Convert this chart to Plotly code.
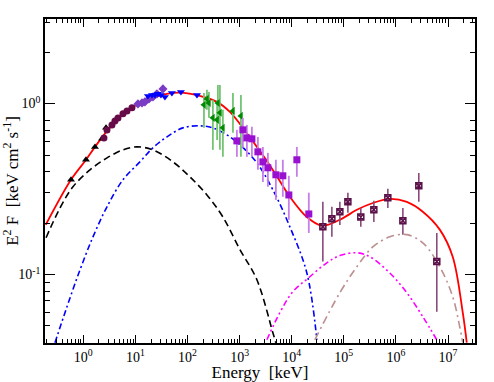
import plotly.graph_objects as go

# ---------------- model curves ----------------
total_E = [0.19, 0.58, 1.13, 1.68, 2.98, 6.9, 15.2, 40, 72, 152, 366, 651, 1014, 2150, 4350,
           9220, 19500, 37900, 84000, 178000, 361000, 764000, 1.62e6, 3.28e6, 6.95e6,
           1.23e7, 1.92e7, 2.29e7]
total_F = [0.195, 0.358, 0.469, 0.558, 0.701, 0.906, 1.037, 1.14, 1.16, 1.12, 1.023, 0.894,
           0.760, 0.558, 0.409, 0.285, 0.217, 0.193, 0.209, 0.239, 0.262, 0.277, 0.266,
           0.233, 0.183, 0.127, 0.0598, 0.0399]

bb_E = [0.193, 0.357, 0.634, 1.34, 2.85, 5.77, 10.7, 21.7, 52.5, 111, 236, 478, 1014, 2148,
        4350, 4960]
bb_F = [0.164, 0.245, 0.326, 0.409, 0.481, 0.536, 0.558, 0.536, 0.456, 0.373, 0.292, 0.217,
        0.140, 0.0931, 0.0456, 0.0399]

comp2_E = [0.286, 0.486, 0.864, 1.535, 2.85, 5.77, 12.2, 21.7, 40.3, 81.5, 173, 307, 570,
           1014, 2148, 4350, 9220, 19540, 30400]
comp2_F = [0.0399, 0.0647, 0.1064, 0.166, 0.249, 0.358, 0.456, 0.551, 0.638, 0.721, 0.741,
           0.721, 0.656, 0.574, 0.450, 0.313, 0.190, 0.102, 0.0415]

comp3_E = [3340, 5930, 10500, 22300, 47200, 84000, 178000, 316000, 764000, 1.62e6, 3.28e6,
           6.08e6]
comp3_F = [0.0415, 0.0598, 0.0792, 0.0970, 0.117, 0.129, 0.134, 0.127, 0.102, 0.0782,
           0.0566, 0.0415]

comp4_E = [27800, 84000, 178000, 360600, 764000, 1.62e6, 3.28e6, 6.95e6, 1.23e7, 1.68e7,
           1.92e7]
comp4_F = [0.0415, 0.0782, 0.111, 0.145, 0.166, 0.171, 0.153, 0.111, 0.0741, 0.0494, 0.0399]

# ---------------- data points ----------------
tri_E = [0.581, 1.127, 1.675, 2.29, 2.73]
tri_F = [0.358, 0.469, 0.558, 0.622, 0.721]

circ_E = [2.49, 2.85, 3.55, 4.05, 4.63, 5.77, 6.89, 8.59]
circ_F = [0.630, 0.701, 0.750, 0.792, 0.824, 0.871, 0.906, 0.944]

dia_E = [11.2, 13.4, 15.2, 18.2, 21.7, 25.9, 33.8]
dia_F = [0.996, 1.009, 1.023, 1.065, 1.094, 1.140, 1.219]

tdn_E = [17.4, 20.8, 23.7, 27.1, 30.9, 36.9, 50.2, 74.8, 152]
tdn_F = [1.109, 1.124, 1.124, 1.140, 1.124, 1.094, 1.155, 1.170, 1.124]

grn_E = [207, 236, 258, 307, 383, 370, 419, 478, 745, 1060]
grn_F = [0.983, 1.065, 1.009, 0.825, 1.009, 0.803, 0.883, 0.721, 0.906, 0.847]
grn_hi = [1.155, 1.203, 1.170, 1.051, 1.286, 1.051, 1.286, 0.919, 1.155, 1.124]
grn_lo = [0.721, 0.919, 0.825, 0.536, 0.803, 0.613, 0.536, 0.488, 0.674, 0.488]

sq_E = [887, 1156, 1380, 1722, 2244, 2800, 3490, 4970, 6760, 8810, 12560, 21300]
sq_F = [0.605, 0.702, 0.630, 0.622, 0.522, 0.456, 0.421, 0.383, 0.378, 0.292, 0.469, 0.226]
sq_hi = [0.702, 0.825, 0.750, 0.731, 0.638, 0.558, 0.515, 0.469, 0.469, 0.378, 0.558, 0.301]
sq_lo = [0.488, 0.551, 0.488, 0.488, 0.410, 0.348, 0.326, 0.273, 0.285, 0.209, 0.373, 0.175]

x_E = [39600, 59000, 84000, 119700, 212000, 377000, 700000, 1.36e6, 2.75e6, 6.09e6]
x_F = [0.190, 0.212, 0.233, 0.266, 0.217, 0.239, 0.281, 0.206, 0.330, 0.119]
x_hi = [0.266, 0.249, 0.266, 0.301, 0.245, 0.270, 0.317, 0.245, 0.393, 0.175]
x_lo = [0.119, 0.166, 0.195, 0.230, 0.190, 0.203, 0.245, 0.171, 0.266, 0.0605]

# ---------------- ticks ----------------
x_major = [1, 10, 100, 1e3, 1e4, 1e5, 1e6, 1e7]
x_labels = ["10<sup>0</sup>", "10<sup>1</sup>", "10<sup>2</sup>", "10<sup>3</sup>",
            "10<sup>4</sup>", "10<sup>5</sup>", "10<sup>6</sup>", "10<sup>7</sup>"]
x_minor_mult = [2, 3, 4, 5, 6, 7, 8, 9]
x_minor_decades = [0.1, 1, 10, 100, 1e3, 1e4, 1e5, 1e6, 1e7]
y_major = [0.1, 1]
y_labels = ["10<sup>-1</sup>", "10<sup>0</sup>"]
y_minor = [0.05, 0.06, 0.07, 0.08, 0.09, 0.2, 0.3, 0.4, 0.5, 0.6, 0.7, 0.8, 2, 3]

x_minor = [m * d for d in x_minor_decades for m in x_minor_mult]

fig = go.Figure()

def line(xs, ys, color, dash, width=1.6):
    fig.add_trace(go.Scatter(x=xs, y=ys, mode="lines", line=dict(color=color, dash=dash,
                             width=width, shape="spline", smoothing=1.0), hoverinfo="skip"))

line(bb_E, bb_F, "#000000", "7px,4px")
line(comp2_E, comp2_F, "#0000ff", "6px,3px,2px,3px")
line(comp3_E, comp3_F, "#ff00ff", "6px,3px,2px,3px,2px,3px")
line(comp4_E, comp4_F, "#bc8f8f", "8px,4px,2px,4px")
line(total_E, total_F, "#ff0000", "solid", 1.8)

def errs(v, hi, lo):
    return [h - a for a, h in zip(v, hi)], [a - l for a, l in zip(v, lo)]

gp, gm = errs(grn_F, grn_hi, grn_lo)
fig.add_trace(go.Scatter(x=grn_E, y=grn_F, mode="markers",
                         marker=dict(symbol="triangle-left", size=7, color="#008a00"),
                         error_y=dict(type="data", symmetric=False, array=gp, arrayminus=gm,
                                      color="#74c474", thickness=1.8, width=0)))
sp, sm = errs(sq_F, sq_hi, sq_lo)
fig.add_trace(go.Scatter(x=sq_E, y=sq_F, mode="markers",
                         marker=dict(symbol="square", size=7, color="#9a10d0"),
                         error_y=dict(type="data", symmetric=False, array=sp, arrayminus=sm,
                                      color="#c77ee8", thickness=1.8, width=0)))
xp, xm = errs(x_F, x_hi, x_lo)
fig.add_trace(go.Scatter(x=x_E, y=x_F, mode="markers",
                         marker=dict(symbol="square-x-open", size=6, color="#5a1048",
                                     line=dict(width=1.5, color="#5a1048")),
                         error_y=dict(type="data", symmetric=False, array=xp, arrayminus=xm,
                                      color="#8a4a7a", thickness=1.6, width=0)))
fig.add_trace(go.Scatter(x=tri_E, y=tri_F, mode="markers",
                         marker=dict(symbol="triangle-up", size=7, color="#000000")))
fig.add_trace(go.Scatter(x=circ_E, y=circ_F, mode="markers",
                         marker=dict(symbol="circle", size=7, color="#660a48")))
fig.add_trace(go.Scatter(x=dia_E, y=dia_F, mode="markers",
                         marker=dict(symbol="diamond", size=7, color="#7a3cc4")))
fig.add_trace(go.Scatter(x=tdn_E, y=tdn_F, mode="markers",
                         marker=dict(symbol="triangle-down", size=7, color="#0000ff")))

axis_common = dict(type="log", showgrid=False, zeroline=False, showline=True,
                   linecolor="black", linewidth=1.5, mirror="allticks", ticks="inside",
                   tickcolor="black", tickwidth=1, automargin=False,
                   tickfont=dict(family="Liberation Serif", size=14, color="black"))

fig.update_xaxes(range=[-0.735, 7.518], tickmode="array", tickvals=x_major, ticktext=x_labels,
                 ticklen=8,
                 minor=dict(tickmode="array", tickvals=x_minor, ticks="inside", ticklen=4,
                            tickcolor="black", tickwidth=1),
                 title=dict(text="Energy  [keV]", standoff=2,
                            font=dict(family="Liberation Serif", size=17, color="black")),
                 **axis_common)
fig.update_yaxes(range=[-1.401, 0.495], tickmode="array", tickvals=y_major, ticktext=y_labels,
                 ticklen=10,
                 minor=dict(tickmode="array", tickvals=y_minor, ticks="inside", ticklen=5,
                            tickcolor="black", tickwidth=1),
                 title=dict(text="E<sup>2</sup> F  [keV cm<sup>2</sup> s<sup>-1</sup>]", standoff=2,
                            font=dict(family="Liberation Serif", size=17, color="black")),
                 **axis_common)

fig.update_layout(width=494, height=382, showlegend=False, plot_bgcolor="white",
                  paper_bgcolor="white", margin=dict(l=45, r=19, t=19, b=39))

fig.write_html("out.html", config={"displayModeBar": False},
               post_script="document.body.style.margin='0';document.body.style.padding='0';")
